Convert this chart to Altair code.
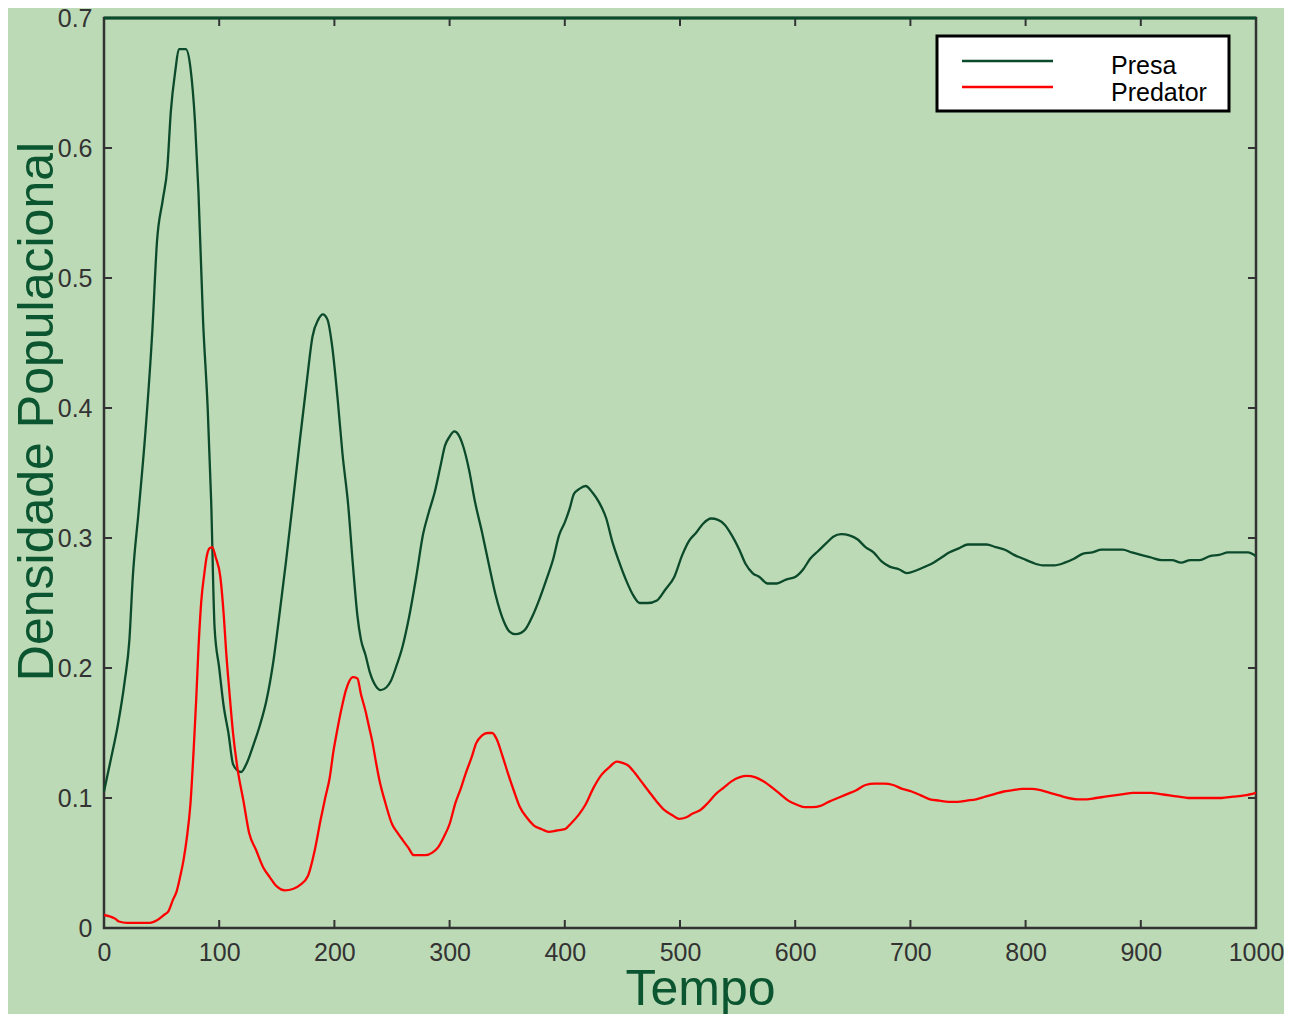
import altair as alt
import pandas as pd

# ---------------- data ----------------
prey_t = [0, 6, 12, 18, 22, 25, 30, 36, 42, 46, 51, 55, 58, 62, 65, 71, 75, 79, 82, 86, 90, 93, 96, 100,
          104, 108, 112, 116, 119, 124, 129, 135, 141, 147, 152, 158, 164, 170, 176, 181, 186, 190, 194,
          198, 203, 207, 212, 216, 220, 223, 227, 231, 236, 240, 245, 249, 254, 259, 265, 271, 277, 282,
          287, 292, 296, 300, 304, 308, 312, 317, 322, 328, 334, 340, 347, 352, 357, 362, 366, 372, 378,
          384, 390, 395, 400, 404, 408, 413, 418, 424, 430, 436, 441, 447, 453, 460, 465, 472, 480, 487,
          495, 502, 508, 514, 520, 527, 533, 539, 545, 551, 557, 563, 569, 576, 584, 592, 600, 607, 613,
          620, 627, 633, 640, 647, 654, 661, 668, 675, 682, 690, 697, 705, 713, 720, 727, 734, 742, 750,
          758, 766, 774, 782, 790, 798, 806, 815, 825, 834, 842, 850, 858, 866, 875, 884, 892, 900, 909,
          918, 927, 935, 943, 951, 960, 968, 976, 985, 993, 1000]
prey_v = [0.105, 0.130, 0.156, 0.190, 0.221, 0.270, 0.320, 0.382, 0.460, 0.528, 0.560, 0.585, 0.628,
          0.660, 0.676, 0.676, 0.662, 0.620, 0.566, 0.467, 0.400, 0.329, 0.231, 0.200, 0.170, 0.150,
          0.126, 0.121, 0.120, 0.127, 0.139, 0.155, 0.175, 0.205, 0.239, 0.282, 0.328, 0.375, 0.420,
          0.455, 0.468, 0.472, 0.468, 0.448, 0.405, 0.365, 0.325, 0.280, 0.240, 0.222, 0.210, 0.196,
          0.186, 0.183, 0.185, 0.190, 0.202, 0.216, 0.240, 0.270, 0.303, 0.320, 0.335, 0.355, 0.371,
          0.378, 0.382, 0.379, 0.370, 0.352, 0.328, 0.305, 0.280, 0.256, 0.236, 0.228, 0.226, 0.227,
          0.230, 0.240, 0.253, 0.268, 0.284, 0.302, 0.312, 0.322, 0.334, 0.338, 0.340, 0.335, 0.327,
          0.315, 0.298, 0.282, 0.268, 0.255, 0.250, 0.250, 0.252, 0.260, 0.270, 0.287, 0.298, 0.304,
          0.311, 0.315, 0.314, 0.310, 0.302, 0.292, 0.280, 0.273, 0.270, 0.265, 0.265, 0.268, 0.270,
          0.276, 0.284, 0.290, 0.296, 0.301, 0.303, 0.302, 0.299, 0.293, 0.289, 0.282, 0.278, 0.276,
          0.273, 0.275, 0.278, 0.281, 0.285, 0.289, 0.292, 0.295, 0.295, 0.295, 0.293, 0.291, 0.287,
          0.284, 0.281, 0.279, 0.279, 0.281, 0.284, 0.288, 0.289, 0.291, 0.291, 0.291, 0.289, 0.287,
          0.285, 0.283, 0.283, 0.281, 0.283, 0.283, 0.286, 0.287, 0.289, 0.289, 0.289, 0.286]

pred_t = [0, 5, 10, 13, 20, 30, 40, 46, 52, 56, 60, 63, 66, 69, 72, 75, 78, 80, 82, 84.5, 87, 89, 91.5,
          94, 97, 101, 104, 106, 109, 112, 116, 121, 126, 132, 138, 144, 150, 157, 164, 170, 177, 183,
          188, 192, 196, 199, 202, 206, 210, 213, 216, 220, 223, 227, 230, 233, 236, 239, 244, 250, 255,
          259, 264, 269, 274, 279, 285, 290, 295, 300, 305, 310, 314, 319, 323, 328, 333, 337, 341, 346,
          351, 356, 361, 367, 373, 380, 386, 393, 400, 406, 412, 418, 425, 432, 439, 445, 450, 455, 461,
          467, 473, 480, 486, 493, 499, 505, 511, 518, 524, 531, 538, 545, 552, 558, 565, 572, 580, 587,
          594, 601, 608, 615, 622, 629, 637, 645, 653, 661, 669, 677, 685, 693, 701, 709, 717, 725, 733,
          741, 749, 757, 765, 773, 781, 789, 797, 805, 813, 821, 829, 837, 845, 853, 861, 869, 877, 885,
          893, 901, 909, 917, 925, 933, 941, 950, 960, 970, 980, 990, 1000]
pred_v = [0.010, 0.009, 0.007, 0.005, 0.004, 0.004, 0.004, 0.006, 0.010, 0.013, 0.022, 0.028, 0.039,
          0.052, 0.070, 0.095, 0.140, 0.175, 0.215, 0.252, 0.272, 0.285, 0.292, 0.293, 0.285, 0.270,
          0.240, 0.213, 0.180, 0.150, 0.122, 0.098, 0.073, 0.060, 0.047, 0.039, 0.032, 0.029, 0.030,
          0.033, 0.040, 0.060, 0.083, 0.100, 0.116, 0.135, 0.150, 0.168, 0.183, 0.190, 0.193, 0.192,
          0.180, 0.167, 0.155, 0.143, 0.128, 0.114, 0.097, 0.080, 0.073, 0.068, 0.062, 0.056, 0.056,
          0.056, 0.058, 0.062, 0.070, 0.080, 0.096, 0.108, 0.119, 0.131, 0.142, 0.148, 0.150, 0.150,
          0.145, 0.132, 0.118, 0.105, 0.093, 0.085, 0.079, 0.076, 0.074, 0.075, 0.076, 0.081, 0.087,
          0.095, 0.108, 0.118, 0.124, 0.128, 0.127, 0.125, 0.119, 0.112, 0.105, 0.097, 0.091, 0.087,
          0.084, 0.085, 0.088, 0.091, 0.096, 0.103, 0.108, 0.113, 0.116, 0.117, 0.116, 0.113, 0.108,
          0.103, 0.098, 0.095, 0.093, 0.093, 0.094, 0.097, 0.100, 0.103, 0.106, 0.110, 0.111, 0.111,
          0.110, 0.107, 0.105, 0.102, 0.099, 0.098, 0.097, 0.097, 0.098, 0.099, 0.101, 0.103, 0.105,
          0.106, 0.107, 0.107, 0.106, 0.104, 0.102, 0.100, 0.099, 0.099, 0.100, 0.101, 0.102, 0.103,
          0.104, 0.104, 0.104, 0.103, 0.102, 0.101, 0.100, 0.100, 0.100, 0.100, 0.101, 0.102, 0.104]

series_names = ["Presa", "Predator"]
series_colors = ["#0b4a2a", "#ff0000"]
x_ticks = [0, 100, 200, 300, 400, 500, 600, 700, 800, 900, 1000]
y_ticks = [0, 0.1, 0.2, 0.3, 0.4, 0.5, 0.6, 0.7]
x_title = "Tempo"
y_title = "Densidade Populacional"

# ---------------- layout ----------------
W, H = 1152, 910
GREEN_TXT = "#0b5530"
FRAME = "#333333"
FONT = "Liberation Sans"

df = pd.concat([
    pd.DataFrame({"t": prey_t, "v": prey_v, "serie": series_names[0]}),
    pd.DataFrame({"t": pred_t, "v": pred_v, "serie": series_names[1]}),
])

xscale = alt.Scale(domain=[0, 1000], nice=False, zero=False)
yscale = alt.Scale(domain=[0, 0.7], nice=False, zero=False)

x_axis = alt.Axis(values=x_ticks, title=x_title, labelPadding=12, format="d",
                  labelFlush=False, labelOverlap=False,
                  titleX=596, titleY=76, titleAlign="center",
                  titleBaseline="alphabetic")
y_axis = alt.Axis(values=y_ticks, title=y_title, labelPadding=12,
                  labelFlush=False, labelOverlap=False,
                  titleX=-52, titleY=393, titleAlign="center",
                  titleBaseline="alphabetic", titleAngle=270,
                  format=".1~f")

lines = alt.Chart(df).mark_line(strokeWidth=2.3, interpolate="monotone").encode(
    x=alt.X("t:Q", scale=xscale, axis=x_axis),
    y=alt.Y("v:Q", scale=yscale, axis=y_axis),
    color=alt.Color("serie:N", scale=alt.Scale(domain=series_names, range=series_colors),
                    legend=None),
    detail="serie:N",
)

xt_df = pd.DataFrame({"t": x_ticks[1:-1]})
yt_df = pd.DataFrame({"v": y_ticks[1:-1]})

tick_len = 8
xt_bottom = alt.Chart(xt_df).mark_rule(color=FRAME, strokeWidth=2).encode(
    x=alt.X("t:Q", scale=xscale, axis=x_axis), y=alt.value(H), y2=alt.value(H - tick_len))
xt_top = alt.Chart(xt_df).mark_rule(color=FRAME, strokeWidth=2).encode(
    x=alt.X("t:Q", scale=xscale, axis=x_axis), y=alt.value(0), y2=alt.value(tick_len))
yt_left = alt.Chart(yt_df).mark_rule(color=FRAME, strokeWidth=2).encode(
    y=alt.Y("v:Q", scale=yscale, axis=y_axis), x=alt.value(0), x2=alt.value(tick_len))
yt_right = alt.Chart(yt_df).mark_rule(color=FRAME, strokeWidth=2).encode(
    y=alt.Y("v:Q", scale=yscale, axis=y_axis), x=alt.value(W), x2=alt.value(W - tick_len))

top_border = alt.Chart(pd.DataFrame({"a": [0]})).mark_rule(
    color=series_colors[0], strokeWidth=3).encode(
    x=alt.value(0), x2=alt.value(W), y=alt.value(0))

# legend box
leg_box = alt.Chart(pd.DataFrame({"a": [0]})).mark_rect(
    fill="white", stroke="black", strokeWidth=3).encode(
    x=alt.value(833), x2=alt.value(1125), y=alt.value(18), y2=alt.value(93))

leg_layers = []
for i, (name, col) in enumerate(zip(series_names, series_colors)):
    d = pd.DataFrame({"serie": [name]})
    leg_layers.append(alt.Chart(d).mark_rule(color=col, strokeWidth=2.5).encode(
        x=alt.value(858), x2=alt.value(949), y=alt.value(43 + 26 * i)))
    leg_layers.append(alt.Chart(d).mark_text(
        font=FONT, fontSize=25, color="black", align="left", baseline="alphabetic").encode(
        x=alt.value(1007), y=alt.value(56 + 27 * i), text="serie:N"))

chart = alt.layer(
    lines, xt_bottom, xt_top, yt_left, yt_right, top_border, leg_box, *leg_layers
).properties(
    width=W, height=H,
    autosize=alt.AutoSizeParams(type="none"),
    padding={"left": 96, "top": 10, "right": 28, "bottom": 86},
    background="#bddab6",
).configure_view(
    stroke=FRAME, strokeWidth=2.5
).configure_axis(
    grid=False, domain=False, ticks=False, tickSize=0,
    labelFont=FONT, labelFontSize=25, labelColor=FRAME,
    titleFont=FONT, titleFontSize=50, titleColor=GREEN_TXT, titleFontWeight="normal",
)

chart.save("out.html", embed_options={"renderer": "svg", "actions": False})
